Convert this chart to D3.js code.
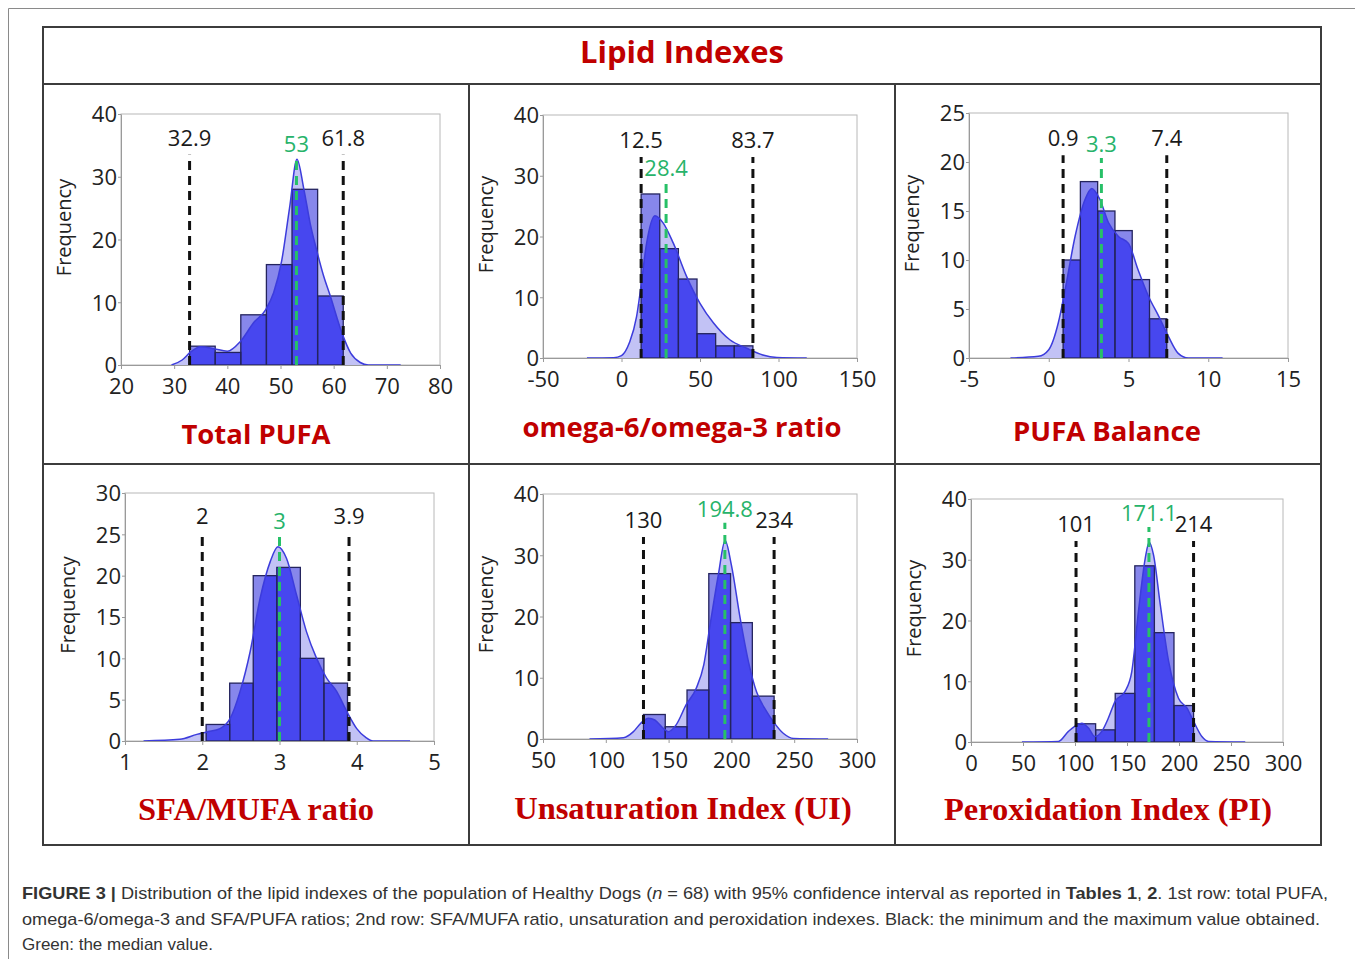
<!DOCTYPE html>
<html>
<head>
<meta charset="utf-8">
<script src="https://cdn.jsdelivr.net/npm/d3@7"></script>
<style>
  body { margin: 0; background: #fff; }
  svg { display: block; }
</style>
</head>
<body>
<svg id="chart" width="1355" height="959"></svg>
<script>
// ---- data ----
// Total PUFA
const pufaTicksX = [20, 30, 40, 50, 60, 70, 80];
const pufaTicksY = [0, 10, 20, 30, 40];
const pufaBins = [32.9, 61.8];
const pufaCounts = [3, 2, 8, 16, 28, 11];
const pufaCurve = [[29.5,0],[31.5,0.8],[33,2],[35,2.9],[37.5,2.6],[40,2.2],[42.5,3.8],[45,6.8],[47.2,8.8],[48.7,11.5],[50.2,16.5],[51.7,25],[53.1,32.8],[54.4,28],[55.6,22.5],[56.8,18.3],[58,14.5],[59.4,10.9],[61.6,5],[63.2,1.9],[65,0.4],[66.5,0],[72.6,0]];
const pufaMarks = [32.9, 53, 61.8];
const pufaMarkLabels = ["32.9", "53", "61.8"];
const pufaMarkTops = [33.5, 33, 33.5];

// omega-6/omega-3 ratio
const omegaTicksX = [-50, 0, 50, 100, 150];
const omegaTicksY = [0, 10, 20, 30, 40];
const omegaBins = [12.5, 83.7];
const omegaCounts = [27, 18, 13, 4, 2, 2];
const omegaCurve = [[-22,0],[-5,0.05],[0,0.4],[5,2.5],[9.6,6.8],[12.1,11.2],[16,18.9],[21.3,23.4],[26.6,22.2],[33,18.9],[41.5,13.4],[50,9],[58.5,5.8],[69,3],[79.8,1.6],[90,0.5],[99,0.1],[118,0]];
const omegaMarks = [12.5, 28.4, 83.7];
const omegaMarkLabels = ["12.5", "28.4", "83.7"];
const omegaMarkTops = [33.1, 29, 33.1];

// PUFA Balance
const balanceTicksX = [-5, 0, 5, 10, 15];
const balanceTicksY = [0, 5, 10, 15, 20, 25];
const balanceBins = [0.9, 7.4];
const balanceCounts = [10, 18, 15, 13, 8, 4];
const balanceCurve = [[-2.4,0],[-0.65,0.17],[0,0.85],[0.6,3.6],[1.03,7],[1.65,12.4],[2.28,16.2],[2.7,17.3],[3.2,16.2],[3.75,13.8],[4.37,12.4],[5,11.7],[5.6,9],[6.25,6.3],[6.9,4.25],[7.5,2.2],[8.1,0.5],[8.75,0],[10.9,0]];
const balanceMarks = [0.9, 3.3, 7.4];
const balanceMarkLabels = ["0.9", "3.3", "7.4"];
const balanceMarkTops = [20.7, 20.4, 20.7];

// SFA/MUFA ratio
const sfaTicksX = [1, 2, 3, 4, 5];
const sfaTicksY = [0, 5, 10, 15, 20, 25, 30];
const sfaBins = [2.05, 3.88];
const sfaCounts = [2, 7, 20, 21, 10, 7];
const sfaCurve = [[1.24,0],[1.71,0.2],[1.93,0.8],[2.06,1.1],[2.23,1.5],[2.36,2.7],[2.49,6],[2.62,10.8],[2.75,17.3],[2.88,21.7],[2.98,23.5],[3.09,22.1],[3.22,17.7],[3.35,13.2],[3.48,10],[3.61,7.6],[3.74,6],[3.87,3.6],[4.0,1.5],[4.12,0.4],[4.21,0],[4.69,0]];
const sfaMarks = [2, 3, 3.9];
const sfaMarkLabels = ["2", "3", "3.9"];
const sfaMarkTops = [25.2, 24.9, 25.2];

// Unsaturation Index (UI)
const uiTicksX = [50, 100, 150, 200, 250, 300];
const uiTicksY = [0, 10, 20, 30, 40];
const uiBins = [130, 234];
const uiCounts = [4, 2, 8, 27, 19, 7];
const uiCurve = [[87,0],[114,0.2],[122,1.2],[128,2.6],[134,3.4],[139,3.1],[146,1.7],[150,1.2],[156,2.3],[164,5.6],[172,8.3],[178,12.1],[183,18.6],[189.6,26.8],[195,32.4],[200,28.4],[207,19.7],[213.6,12.6],[220,7.7],[228,4.5],[233.5,2.8],[241.5,0.9],[249.5,0.1],[277,0]];
const uiMarks = [130, 194.8, 234];
const uiMarkLabels = ["130", "194.8", "234"];
const uiMarkTops = [33, 35.3, 33];

// Peroxidation Index (PI)
const piTicksX = [0, 50, 100, 150, 200, 250, 300];
const piTicksY = [0, 10, 20, 30, 40];
const piBins = [101, 214];
const piCounts = [3, 2, 8, 29, 18, 6];
const piCurve = [[49,0],[84,0.1],[93.7,1.75],[100,2.6],[106.5,3.1],[113,2.3],[119,0.9],[125.8,1.75],[132,3.9],[138.6,6.7],[148,8.3],[154.6,11.6],[161,21.5],[167.5,30.2],[171.3,32.9],[175.5,30.8],[182,22.6],[190,13.3],[199.5,7.2],[207.6,5.6],[214,3.4],[222,0.9],[228.4,0.1],[263.7,0]];
const piMarks = [101, 171.1, 214];
const piMarkLabels = ["101", "171.1", "214"];
const piMarkTops = [33.1, 35.4, 33.1];

const panelTitles = ["Total PUFA", "omega-6/omega-3 ratio", "PUFA Balance",
                     "SFA/MUFA ratio", "Unsaturation Index (UI)", "Peroxidation Index (PI)"];

const panels = [
  { xTicks: pufaTicksX, yTicks: pufaTicksY, bins: pufaBins, counts: pufaCounts, curve: pufaCurve, marks: pufaMarks, labels: pufaMarkLabels, tops: pufaMarkTops },
  { xTicks: omegaTicksX, yTicks: omegaTicksY, bins: omegaBins, counts: omegaCounts, curve: omegaCurve, marks: omegaMarks, labels: omegaMarkLabels, tops: omegaMarkTops },
  { xTicks: balanceTicksX, yTicks: balanceTicksY, bins: balanceBins, counts: balanceCounts, curve: balanceCurve, marks: balanceMarks, labels: balanceMarkLabels, tops: balanceMarkTops },
  { xTicks: sfaTicksX, yTicks: sfaTicksY, bins: sfaBins, counts: sfaCounts, curve: sfaCurve, marks: sfaMarks, labels: sfaMarkLabels, tops: sfaMarkTops },
  { xTicks: uiTicksX, yTicks: uiTicksY, bins: uiBins, counts: uiCounts, curve: uiCurve, marks: uiMarks, labels: uiMarkLabels, tops: uiMarkTops },
  { xTicks: piTicksX, yTicks: piTicksY, bins: piBins, counts: piCounts, curve: piCurve, marks: piMarks, labels: piMarkLabels, tops: piMarkTops }
];

// ---- layout ----
// plot boxes: [left, right, top, bottom]
const boxes = [[121, 440, 114, 365], [543, 857, 115, 358], [969, 1288, 113, 358],
               [125, 434, 493, 741], [543, 857, 494, 739], [971, 1283, 499, 742]];
const titleX = [256, 682, 1107, 256, 683, 1108];
const titleY = [444, 437, 441, 820, 819, 820];

const svg = d3.select("#chart");
const defs = svg.append("defs");
const sans = "'Open Sans', 'Noto Sans', sans-serif";

// outer figure border (left + top)
svg.append("path").attr("d", "M8.5,959 V8.5 H1355").attr("fill", "none").attr("stroke", "#8a8a8a").attr("stroke-width", 1);

// main frame and grid lines
const frame = svg.append("g").attr("stroke", "#3c3c3c").attr("stroke-width", 2).attr("fill", "none");
frame.append("rect").attr("x", 43).attr("y", 27).attr("width", 1278).attr("height", 818);
frame.append("line").attr("x1", 43).attr("x2", 1321).attr("y1", 84).attr("y2", 84);
frame.append("line").attr("x1", 43).attr("x2", 1321).attr("y1", 464).attr("y2", 464);
frame.append("line").attr("x1", 469).attr("x2", 469).attr("y1", 84).attr("y2", 845);
frame.append("line").attr("x1", 895).attr("x2", 895).attr("y1", 84).attr("y2", 845);

svg.append("text").attr("x", 682).attr("y", 63).attr("text-anchor", "middle")
  .attr("font-family", sans).attr("font-weight", "bold").attr("font-size", 31)
  .attr("fill", "#c00000").text("Lipid Indexes");

function drawPanel(p, i) {
  const [x0, x1, y0, y1] = boxes[i];
  const x = d3.scaleLinear().domain(d3.extent(p.xTicks)).range([x0, x1]);
  const y = d3.scaleLinear().domain(d3.extent(p.yTicks)).range([y1, y0]);
  const g = svg.append("g");

  g.append("rect").attr("x", x0).attr("y", y0).attr("width", x1 - x0).attr("height", y1 - y0)
    .attr("fill", "none").attr("stroke", "#b8b8b8").attr("stroke-width", 1);

  const w = (p.bins[1] - p.bins[0]) / p.counts.length;
  const bars = p.counts.map((c, k) => ({ a: p.bins[0] + k * w, b: p.bins[0] + (k + 1) * w, c: c }));

  const area = d3.area().x(d => x(d[0])).y0(y(0)).y1(d => y(d[1])).curve(d3.curveMonotoneX);
  const line = d3.line().x(d => x(d[0])).y(d => y(d[1])).curve(d3.curveMonotoneX);

  g.append("path").attr("d", area(p.curve)).attr("fill", "#c2c2f5");

  const barRect = sel => sel
    .attr("x", d => x(d.a)).attr("width", d => x(d.b) - x(d.a))
    .attr("y", d => y(d.c)).attr("height", d => y(0) - y(d.c));

  g.append("g").selectAll("rect").data(bars).join("rect").call(barRect).attr("fill", "#8787eb");

  defs.append("clipPath").attr("id", "kde" + i).append("path").attr("d", area(p.curve));
  g.append("g").attr("clip-path", `url(#kde${i})`)
    .selectAll("rect").data(bars).join("rect").call(barRect).attr("fill", "#4747ef");

  g.append("g").selectAll("rect").data(bars).join("rect").call(barRect)
    .attr("fill", "none").attr("stroke", "#24245e").attr("stroke-width", 1.3);

  g.append("path").attr("d", line(p.curve)).attr("fill", "none")
    .attr("stroke", "#3c3cdc").attr("stroke-width", 1.5);

  // axes
  const xAxis = g.append("g").attr("transform", `translate(0,${y1})`)
    .call(d3.axisBottom(x).tickValues(p.xTicks).tickFormat(d => String(d)).tickSizeInner(4).tickSizeOuter(0).tickPadding(9));
  const yAxis = g.append("g").attr("transform", `translate(${x0},0)`)
    .call(d3.axisLeft(y).tickValues(p.yTicks).tickFormat(d => String(d)).tickSizeInner(3).tickSizeOuter(0).tickPadding(1));
  [xAxis, yAxis].forEach(a => {
    a.select(".domain").attr("stroke", "#9a9a9a");
    a.selectAll(".tick line").attr("stroke", "#9a9a9a");
    a.selectAll(".tick text").attr("font-family", sans).attr("font-size", 22).attr("fill", "#222");
  });
  yAxis.selectAll(".tick text").attr("dy", "0.36em");

  g.append("text")
    .attr("transform", `translate(${x0 - 50},${(y0 + y1) / 2 - 12}) rotate(-90)`)
    .attr("text-anchor", "middle").attr("font-family", sans).attr("font-size", 20).attr("fill", "#222")
    .text("Frequency");

  // min / median / max dashed markers
  p.marks.forEach((m, k) => {
    const green = k === 1;
    g.append("line").attr("x1", x(m)).attr("x2", x(m)).attr("y1", y(0)).attr("y2", y(p.tops[k]))
      .attr("stroke", green ? "#27c067" : "#111").attr("stroke-width", 3).attr("stroke-dasharray", "9,6");
    g.append("text").attr("x", x(m)).attr("y", y(p.tops[k]) - (green ? 6 : 9))
      .attr("text-anchor", "middle").attr("font-family", sans).attr("font-size", 22)
      .attr("fill", green ? "#27b36a" : "#1a1a1a").text(p.labels[k]);
  });

  const serif = i >= 3;
  g.append("text").attr("x", titleX[i]).attr("y", titleY[i]).attr("text-anchor", "middle")
    .attr("font-family", serif ? "'Liberation Serif', 'Times New Roman', serif" : sans)
    .attr("font-weight", "bold").attr("font-size", serif ? 32.5 : 27.5)
    .attr("fill", "#c00000").text(panelTitles[i]);
}

panels.forEach(drawPanel);

// caption
const cap = svg.append("g").attr("font-family", "'Liberation Sans', Arial, sans-serif")
  .attr("font-size", 17).attr("fill", "#333");
const l1 = cap.append("text").attr("x", 22).attr("y", 899).attr("textLength", 1306).attr("lengthAdjust", "spacingAndGlyphs");
l1.append("tspan").attr("font-weight", "bold").text("FIGURE 3 | ");
l1.append("tspan").text("Distribution of the lipid indexes of the population of Healthy Dogs (");
l1.append("tspan").attr("font-style", "italic").text("n");
l1.append("tspan").text(" = 68) with 95% confidence interval as reported in ");
l1.append("tspan").attr("font-weight", "bold").text("Tables 1");
l1.append("tspan").text(", ");
l1.append("tspan").attr("font-weight", "bold").text("2");
l1.append("tspan").text(". 1st row: total PUFA,");
cap.append("text").attr("x", 22).attr("y", 925).attr("textLength", 1298).attr("lengthAdjust", "spacingAndGlyphs")
  .text("omega-6/omega-3 and SFA/PUFA ratios; 2nd row: SFA/MUFA ratio, unsaturation and peroxidation indexes. Black: the minimum and the maximum value obtained.");
cap.append("text").attr("x", 22).attr("y", 950).text("Green: the median value.");
</script>
</body>
</html>
